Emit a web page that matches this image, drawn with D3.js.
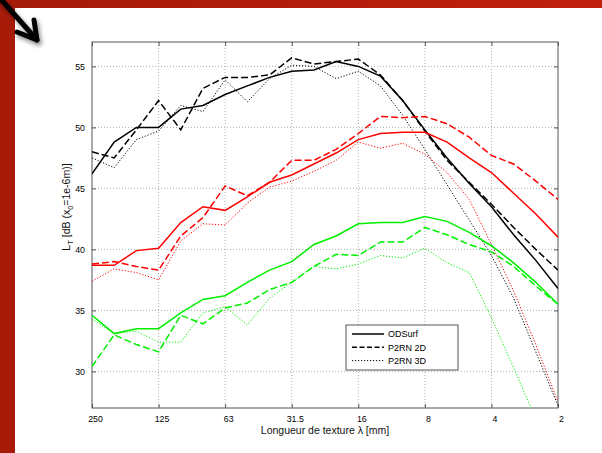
<!DOCTYPE html>
<html>
<head>
<meta charset="utf-8">
<script src="https://cdn.jsdelivr.net/npm/d3@7"></script>
<style>
body { margin: 0; background: #fff; }
text { font-family: "Liberation Sans", Arial, sans-serif; }
</style>
</head>
<body>
<svg width="602" height="453"></svg>
<script>
// third-octave bands, texture wavelength in mm
var bands = [250, 200, 160, 125, 100, 80, 63, 50, 40, 31.5, 25, 20, 16, 12.5, 10, 8, 6.3, 5, 4, 3.15, 2.5, 2];
var xTicks = [250, 125, 63, 31.5, 16, 8, 4, 2];
var yTicks = [30, 35, 40, 45, 50, 55];

var blackODSurf = [46.2, 48.8, 50.0, 50.0, 51.5, 51.8, 52.7, 53.4, 54.1, 54.6, 54.7, 55.4, 55.0, 54.2, 52.2, 49.8, 47.5, 45.4, 43.5, 41.2, 39.1, 36.8];
var black2D     = [48.0, 47.5, 49.8, 52.2, 49.8, 53.2, 54.1, 54.1, 54.3, 55.7, 55.2, 55.4, 55.6, 54.3, 52.2, 49.7, 47.3, 45.5, 43.7, 41.8, 40.0, 38.3];
var black3D     = [47.5, 46.7, 49.0, 49.7, 51.8, 51.3, 53.9, 52.1, 54.0, 55.1, 55.0, 54.0, 54.6, 53.4, 51.0, 48.2, 45.3, 42.4, 39.5, 36.0, 31.6, 27.2];

var redODSurf = [38.7, 38.7, 39.9, 40.1, 42.2, 43.5, 43.2, 44.3, 45.5, 46.1, 47.0, 47.9, 49.0, 49.5, 49.6, 49.6, 48.8, 47.5, 46.3, 44.6, 42.9, 41.0];
var red2D     = [38.8, 39.0, 38.6, 38.3, 41.1, 42.6, 45.2, 44.4, 45.5, 47.3, 47.3, 48.2, 49.5, 50.9, 50.8, 50.9, 50.3, 49.2, 47.7, 47.0, 45.6, 44.1];
var red3D     = [37.4, 38.4, 38.1, 37.5, 40.7, 42.1, 42.0, 43.8, 45.1, 45.6, 46.4, 47.3, 48.8, 48.3, 48.7, 47.8, 46.3, 44.1, 40.4, 36.6, 32.2, 27.5];

var greenODSurf = [34.6, 33.1, 33.5, 33.5, 34.8, 35.9, 36.2, 37.3, 38.3, 39.0, 40.4, 41.1, 42.1, 42.2, 42.2, 42.7, 42.3, 41.4, 40.3, 38.9, 37.3, 35.5];
var green2D     = [30.4, 33.0, 32.2, 31.6, 34.6, 33.9, 35.2, 35.6, 36.7, 37.3, 38.6, 39.6, 39.5, 40.6, 40.6, 41.8, 41.2, 40.4, 39.8, 38.6, 37.0, 35.5];
var green3D     = [34.3, 33.1, 33.3, 32.4, 32.4, 34.8, 35.3, 33.8, 36.0, 37.3, 38.6, 38.4, 38.8, 39.5, 39.3, 40.1, 38.9, 38.1, 34.4, 30.3, 26.1, 21.5];

var legendNames = ["ODSurf", "P2RN 2D", "P2RN 3D"];

var series = [
    {values: blackODSurf, color: "#000", style: 0},
    {values: black2D, color: "#000", style: 1},
    {values: black3D, color: "#000", style: 2},
    {values: redODSurf, color: "#ff0000", style: 0},
    {values: red2D, color: "#ff0000", style: 1},
    {values: red3D, color: "#ff0000", style: 2},
    {values: greenODSurf, color: "#00f000", style: 0},
    {values: green2D, color: "#00f000", style: 1},
    {values: green3D, color: "#00f000", style: 2}
];
var dashes = [null, "7,3", "1.2,1.8"];
var widths = [1.5, 1.5, 1.0];

var svg = d3.select("svg"),
    pLeft = 92, pRight = 558, pTop = 42, pBottom = 408;

var defs = svg.append("defs");
var grad = defs.append("linearGradient").attr("id", "redband")
    .attr("x1", 0).attr("x2", 1).attr("y1", 0).attr("y2", 0);
grad.append("stop").attr("offset", 0).attr("stop-color", "#a41a09");
grad.append("stop").attr("offset", 1).attr("stop-color", "#c0200c");
var sh = defs.append("filter").attr("id", "shadow")
    .attr("x", -0.5).attr("y", -0.5).attr("width", 2).attr("height", 2);
sh.append("feDropShadow").attr("dx", 2).attr("dy", 3).attr("stdDeviation", 2)
    .attr("flood-color", "#000").attr("flood-opacity", 0.45);
defs.append("clipPath").attr("id", "plotclip")
    .append("rect").attr("x", pLeft).attr("y", pTop)
    .attr("width", pRight - pLeft).attr("height", pBottom - pTop);

// frame of the slide
svg.append("rect").attr("x", 0).attr("y", 0).attr("width", 602).attr("height", 8)
    .attr("fill", "url(#redband)");
svg.append("rect").attr("x", 0).attr("y", 0).attr("width", 15).attr("height", 453)
    .attr("fill", "#a81b09");

// arrow
var arrow = svg.append("g").attr("filter", "url(#shadow)")
    .attr("fill", "none").attr("stroke", "#000")
    .attr("stroke-width", 5).attr("stroke-linecap", "round").attr("stroke-linejoin", "round");
arrow.append("path").attr("d", "M-2,-4 L37,40");
arrow.append("path").attr("d", "M17,32 L37,40 L34,20");

var x = d3.scalePoint().domain(bands).range([pLeft, pRight]);
var y = d3.scaleLinear().domain([27, 57]).range([pBottom, pTop]);

// grid
var grid = svg.append("g").attr("stroke", "#9a9a9a").attr("stroke-width", 0.8)
    .attr("stroke-dasharray", "1,2");
grid.selectAll(".gx").data(xTicks.slice(1, -1)).enter()
    .append("line")
    .attr("x1", function(d) { return x(d); }).attr("x2", function(d) { return x(d); })
    .attr("y1", pTop).attr("y2", pBottom);
grid.selectAll(".gy").data(yTicks).enter()
    .append("line")
    .attr("x1", pLeft).attr("x2", pRight)
    .attr("y1", function(d) { return y(d); }).attr("y2", function(d) { return y(d); });

// axes, ticks pointing inward on all four sides
var xAxis = svg.append("g").attr("transform", "translate(0," + pBottom + ")")
    .call(d3.axisBottom(x).tickValues(xTicks).tickSizeInner(-4).tickSizeOuter(0).tickPadding(8));
var xTop = svg.append("g").attr("transform", "translate(0," + pTop + ")")
    .call(d3.axisTop(x).tickValues(xTicks).tickSizeInner(-4).tickSizeOuter(0).tickFormat(""));
var yAxis = svg.append("g").attr("transform", "translate(" + pLeft + ",0)")
    .call(d3.axisLeft(y).tickValues(yTicks).tickSizeInner(-4).tickSizeOuter(0).tickPadding(7));
var yRight = svg.append("g").attr("transform", "translate(" + pRight + ",0)")
    .call(d3.axisRight(y).tickValues(yTicks).tickSizeInner(-4).tickSizeOuter(0).tickFormat(""));

[xAxis, xTop, yAxis, yRight].forEach(function(a) {
    a.select(".domain").remove();
    a.selectAll(".tick line").attr("stroke", "#555");
    a.selectAll("text").attr("font-size", 8.8).attr("fill", "#000")
        .attr("font-family", "'Liberation Sans', Arial, sans-serif");
});
xAxis.selectAll("text").attr("dx", 3);

svg.append("rect").attr("x", pLeft).attr("y", pTop)
    .attr("width", pRight - pLeft).attr("height", pBottom - pTop)
    .attr("fill", "none").attr("stroke", "#555").attr("stroke-width", 1);

// curves
var line = d3.line()
    .x(function(d, i) { return x(bands[i]); })
    .y(function(d) { return y(d); });

svg.append("g").attr("clip-path", "url(#plotclip)")
    .selectAll("path")
    .data(series)
    .enter()
        .append("path")
        .attr("d", function(d) { return line(d.values); })
        .attr("fill", "none")
        .attr("stroke", function(d) { return d.color; })
        .attr("stroke-width", function(d) { return widths[d.style]; })
        .attr("stroke-dasharray", function(d) { return dashes[d.style]; });

// legend
var legend = svg.append("g");
legend.append("rect").attr("x", 346).attr("y", 325).attr("width", 112).attr("height", 45)
    .attr("fill", "#fff").attr("stroke", "#555").attr("stroke-width", 1);
var item = legend.selectAll(".item")
    .data(legendNames)
    .enter()
        .append("g")
        .attr("transform", function(d, i) { return "translate(0," + (334 + i * 13.3) + ")"; });
item.append("line")
    .attr("x1", 352).attr("x2", 384).attr("y1", 0).attr("y2", 0)
    .attr("stroke", "#000")
    .attr("stroke-width", function(d, i) { return widths[i]; })
    .attr("stroke-dasharray", function(d, i) { return i == 1 ? "5,2.5" : dashes[i]; });
item.append("text")
    .attr("x", 388).attr("y", 3.3)
    .attr("font-size", 9).attr("fill", "#000")
    .text(function(d) { return d; });

// axis labels
svg.append("text")
    .attr("x", 325).attr("y", 434)
    .attr("text-anchor", "middle").attr("font-size", 10.5).attr("fill", "#111")
    .text("Longueur de texture \u03bb [mm]");

var ylab = svg.append("text")
    .attr("transform", "translate(70,207) rotate(-90)")
    .attr("text-anchor", "middle").attr("font-size", 10.5).attr("fill", "#111");
ylab.append("tspan").text("L");
ylab.append("tspan").attr("dy", 3).attr("font-size", 7.5).text("T");
ylab.append("tspan").attr("dy", -3).text(" [dB (x");
ylab.append("tspan").attr("dy", 3).attr("font-size", 7.5).text("0");
ylab.append("tspan").attr("dy", -3).text("=1e-6m)]");
</script>
</body>
</html>
